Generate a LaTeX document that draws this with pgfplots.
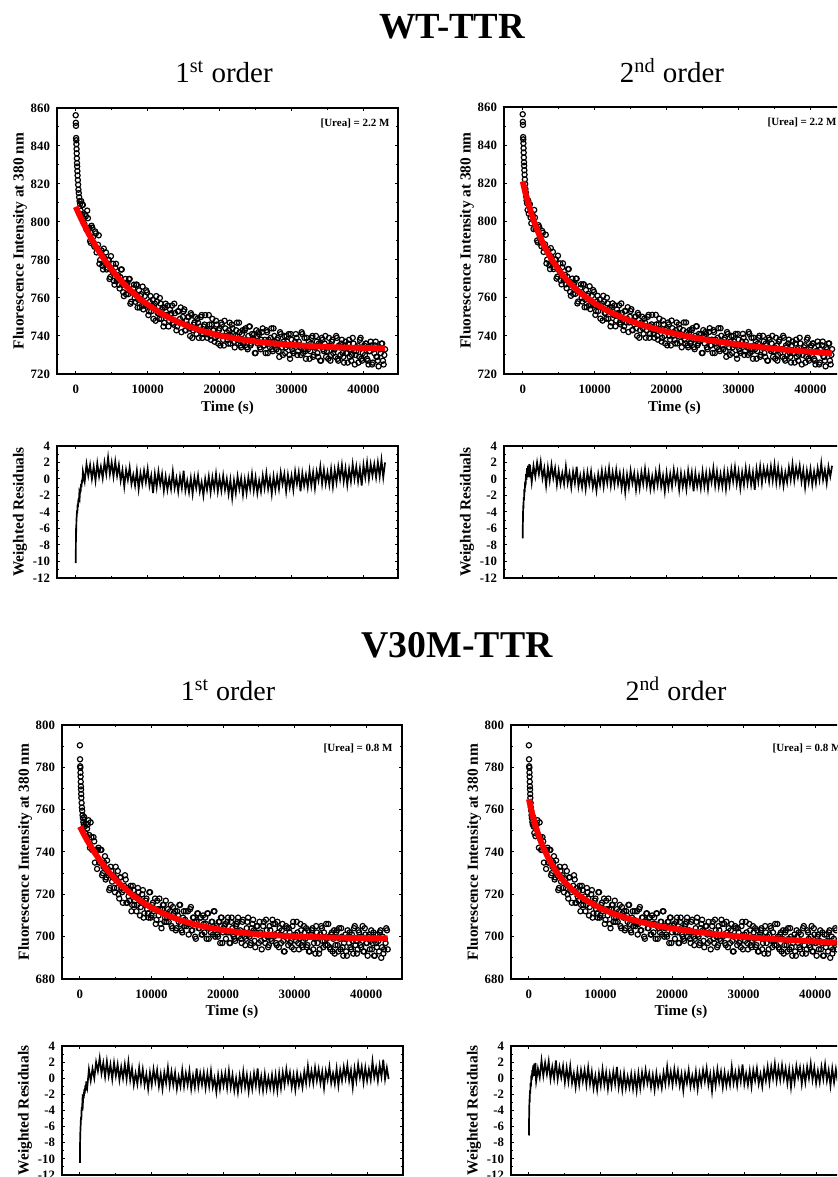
\documentclass[border=0pt]{standalone}
\usepackage{fontspec}
\setmainfont{Liberation Serif}
\usepackage{pgfplots}
\usepackage{pgfplotstable}
\pgfplotsset{compat=1.18}

% WT-TTR fluorescence trace (two interleaved reads of the dense point band)
\pgfplotstableread{
t y
0 856.2
20 852.2
40 850.6
60 844.2
80 843.0
100 841.0
120 838.4
140 836.1
160 833.5
180 831.0
200 829.2
230 826.8
260 824.5
300 822.0
340 819.6
380 817.0
430 815.2
480 813.0
540 811.0
600 809.5
680 806.0
760 811.0
850 804.0
920 809.0
1000 809
1200 799
1400 803
1600 806
1800 796
2000 790
2200 798
2400 792
2600 787
2800 794
3000 786
3200 793
3400 780
3600 785
3800 775
4000 781
4200 784
4400 776
4600 780
4800 771
5000 775
5200 778
5400 767
5600 778
5800 770
6000 767
6200 771
6400 775
6600 763
6800 768
7000 762
7200 768
7400 770
7600 757
7800 763
8000 765
8200 760
8400 767
8600 755
8800 764
9000 761
9200 756
9400 754
9600 761
9800 764
10000 756
10200 753
10400 761
10600 756
10800 749
11000 757
11200 761
11400 752
11600 749
11800 757
12000 754
12200 745
12400 755
12600 751
12800 756
13000 748
13200 751
13400 756
13600 746
13800 752
14000 743
14200 753
14400 747
14600 755
14800 747
15000 753
15200 743
15400 748
15600 750
15800 744
16000 752
16200 739
16400 746
16600 750
16800 741
17000 747
17200 743
17400 750
17600 739
17800 745
18000 751
18200 741
18400 743
18600 746
18800 738
19000 749
19200 743
19400 739
19600 746
19800 736
20000 744
20200 747
20400 740
20600 735
20800 744
21000 742
21200 736
21400 747
21600 740
21800 744
22000 737
22200 740
22400 747
22600 736
22800 742
23000 734
23200 743
23400 737
23600 744
23800 734
24000 740
24200 745
24400 736
24600 737
24800 741
25000 731
25200 740
25400 742
25600 734
25800 738
26000 744
26200 735
26400 731
26600 742
26800 738
27000 734
27200 744
27400 732
27600 740
27800 735
28000 738
28200 732
28400 742
28600 736
28800 730
29000 740
29200 734
29400 737
29600 741
29800 728
30000 738
30200 732
30400 735
30600 741
30800 730
31000 737
31200 734
31400 742
31600 731
31800 739
32000 728
32200 735
32400 737
32600 732
32800 739
33000 729
33200 734
33400 740
33600 731
33800 736
34000 727
34200 739
34400 733
34600 736
34800 729
35000 734
35200 739
35400 727
35600 737
35800 731
36000 733
36200 740
36400 728
36600 735
36800 730
37000 738
37200 729
37400 735
37600 731
37800 726
38000 738
38200 733
38400 730
38600 736
38800 725
39000 732
39200 735
39400 729
39600 739
39800 727
40000 734
40200 730
40400 736
40600 727
40800 732
41000 737
41200 725
41400 733
41600 735
41800 729
42000 727
42200 734
42400 731
42600 736
42800 725
43000 733
}\wtdata

\pgfplotstableread{
t y
1100 802
1300 804
1500 796
1700 802
1900 797
2100 789
2300 797
2500 789
2700 795
2900 784
3100 788
3300 778
3500 784
3700 777
3900 786
4100 778
4300 775
4500 780
4700 770
4900 782
5100 774
5300 769
5500 776
5700 769
5900 772
6100 765
6300 775
6500 767
6700 761
6900 770
7100 767
7300 762
7500 770
7700 758
7900 763
8100 767
8300 758
8500 767
8700 759
8900 755
9100 762
9300 766
9500 756
9700 757
9900 763
10100 751
10300 758
10500 753
10700 759
10900 755
11100 748
11300 758
11500 752
11700 760
11900 749
12100 755
12300 747
12500 757
12700 751
12900 745
13100 754
13300 752
13500 747
13700 757
13900 748
14100 745
14300 753
14500 749
14700 742
14900 750
15100 754
15300 743
15500 746
15700 750
15900 740
16100 751
16300 743
16500 747
16700 744
16900 749
17100 739
17300 745
17500 751
17700 741
17900 746
18100 743
18300 739
18500 751
18700 740
18900 746
19100 743
19300 737
19500 748
19700 740
19900 743
20100 735
20300 746
20500 738
20700 748
20900 740
21100 738
21300 743
21500 736
21700 746
21900 741
22100 734
22300 743
22500 738
22700 747
22900 735
23100 741
23300 736
23500 743
23700 738
23900 733
24100 745
24300 735
24500 741
24700 738
24900 731
25100 743
25300 736
25500 741
25700 733
25900 742
26100 735
26300 738
26500 743
26700 731
26900 736
27100 739
27300 733
27500 744
27700 737
27900 733
28100 739
28300 729
28500 741
28700 734
28900 737
29100 731
29300 740
29500 735
29700 730
29900 741
30100 733
30300 731
30500 737
30700 739
30900 732
31100 735
31300 730
31500 741
31700 733
31900 732
32100 739
32300 733
32500 728
32700 736
32900 740
33100 730
33300 734
33500 737
33700 729
33900 735
34100 727
34300 738
34500 732
34700 740
34900 732
35100 728
35300 735
35500 730
35700 738
35900 733
36100 729
36300 739
36500 727
36700 734
36900 736
37100 731
37300 726
37500 737
37700 731
37900 736
38100 729
38300 727
38500 739
38700 732
38900 730
39100 734
39300 726
39500 738
39700 728
39900 731
40100 735
40300 736
40500 728
40700 725
40900 732
41100 735
41300 726
41500 731
41700 737
41900 729
42100 724
42300 733
42500 736
42700 727
42900 730
}\wtdatab

% V30M-TTR fluorescence trace
\pgfplotstableread{
t y
0 790.4
20 783.8
40 780.5
60 779.8
80 777.5
100 775.6
120 773.2
140 771.0
160 769.5
180 767.4
200 765.6
240 763.2
280 761.0
320 759.5
370 757.4
420 756.0
480 754.2
540 753.0
600 756.5
680 752.0
760 749.0
850 753.5
920 747.5
1000 751
1200 755
1400 742
1600 747
1800 741
2000 745
2200 741
2400 732
2600 742
2800 735
3000 741
3200 730
3400 735
3600 727
3800 736
4000 729
4200 723
4400 731
4600 728
4800 723
5000 733
5200 723
5400 720
5600 728
5800 723
6000 716
6200 724
6400 727
6600 716
6800 719
7000 722
7200 712
7400 724
7600 715
7800 719
8000 715
8200 721
8400 710
8600 716
8800 722
9000 711
9200 717
9400 713
9600 709
9800 721
10000 710
10200 716
10400 713
10600 706
10800 717
11000 710
11200 713
11400 704
11600 715
11800 707
12000 717
12200 709
12400 707
12600 712
12800 705
13000 714
13200 709
13400 703
13600 712
13800 707
14000 715
14200 703
14400 709
14600 705
14800 712
15000 706
15200 701
15400 713
15600 703
15800 709
16000 707
16200 699
16400 711
16600 704
16800 709
17000 701
17200 710
17400 702
17600 706
17800 711
18000 699
18200 704
18400 707
18600 701
18800 712
19000 704
19200 701
19400 707
19600 697
19800 709
20000 702
20200 705
20400 699
20600 707
20800 702
21000 697
21200 709
21400 701
21600 699
21800 705
22000 707
22200 700
22400 703
22600 697
22800 708
23000 700
23200 699
23400 707
23600 701
23800 696
24000 704
24200 708
24400 698
24600 702
24800 705
25000 697
25200 702
25400 694
25600 705
25800 699
26000 708
26200 700
26400 696
26600 703
26800 698
27000 706
27200 701
27400 697
27600 707
27800 695
28000 701
28200 703
28400 698
28600 693
28800 705
29000 699
29200 704
29400 697
29600 695
29800 707
30000 700
30200 698
30400 702
30600 694
30800 706
31000 696
31200 698
31400 702
31600 704
31800 696
32000 693
32200 700
32400 703
32600 694
32800 699
33000 705
33200 697
33400 692
33600 701
33800 704
34000 695
34200 698
34400 706
34600 696
34800 700
35000 694
35200 702
35400 699
35600 692
35800 702
36000 696
36200 704
36400 694
36600 700
36800 691
37000 699
37200 693
37400 703
37600 697
37800 695
38000 701
38200 692
38400 705
38600 698
38800 694
39000 702
39200 696
39400 700
39600 693
39800 704
40000 697
40200 691
40400 701
40600 698
40800 694
41000 702
41200 691
41400 697
41600 701
41800 693
42000 703
42200 695
42400 692
42600 699
42800 704
43000 694
}\vmdata

\pgfplotstableread{
t y
1100 753
1300 748
1500 754
1700 741
1900 747
2100 735
2300 741
2500 741
2700 735
2900 741
3100 729
3300 733
3500 738
3700 728
3900 732
4100 722
4300 733
4500 726
4700 729
4900 721
5100 727
5300 731
5500 718
5700 728
5900 721
6100 722
6300 729
6500 716
6700 723
6900 717
7100 724
7300 715
7500 722
7700 717
7900 712
8100 723
8300 718
8500 714
8700 720
8900 709
9100 715
9300 718
9500 711
9700 721
9900 709
10100 715
10300 712
10500 718
10700 708
10900 713
11100 718
11300 706
11500 713
11700 715
11900 709
12100 707
12300 713
12500 710
12700 715
12900 704
13100 711
13300 712
13500 704
13700 710
13900 715
14100 706
14300 702
14500 712
14700 708
14900 705
15100 712
15300 706
15500 714
15700 703
15900 709
16100 700
16300 707
16500 711
16700 704
16900 709
17100 701
17300 706
17500 709
17700 699
17900 711
18100 704
18300 702
18500 707
18700 712
18900 700
19100 705
19300 700
19500 707
19700 709
19900 697
20100 704
20300 706
20500 702
20700 709
20900 697
21100 707
21300 704
21500 700
21700 698
21900 706
22100 709
22300 702
22500 699
22700 707
22900 702
23100 696
23300 704
23500 709
23700 700
23900 697
24100 706
24300 703
24500 695
24700 705
24900 701
25100 707
25300 698
25500 701
25700 707
25900 697
26100 703
26300 695
26500 705
26700 699
26900 708
27100 700
27300 706
27500 696
27700 702
27900 704
28100 697
28300 706
28500 693
28700 700
28900 704
29100 696
29300 702
29500 698
29700 705
29900 694
30100 701
30300 707
30500 697
30700 699
30900 703
31100 695
31300 705
31500 699
31700 695
31900 703
32100 693
32300 701
32500 704
32700 697
32900 692
33100 702
33300 700
33500 694
33700 705
33900 698
34100 702
34300 696
34500 699
34700 706
34900 695
35100 701
35300 693
35500 703
35700 696
35900 703
36100 693
36300 699
36500 704
36700 695
36900 697
37100 701
37300 691
37500 700
37700 702
37900 694
38100 698
38300 704
38500 696
38700 692
38900 703
39100 699
39300 695
39500 705
39700 693
39900 701
40100 697
40300 700
40500 694
40700 703
40900 697
41100 691
41300 701
41500 695
41700 698
41900 702
42100 690
42300 700
42500 694
42700 697
42900 703
}\vmdatab

% residuals, WT 1st order
\pgfplotstableread{
t r
0 -10.2
20 -8.5
40 -6.0
70 -6.5
100 -5.0
140 -4.5
180 -3.8
220 -4.2
270 -3.0
320 -3.4
380 -2.4
440 -2.8
500 -1.8
560 -2.1
620 -1.2
680 -1.6
740 -0.6
800 -1.0
860 -0.1
920 -0.5
1000 0.9
1250 -0.3
1500 1.8
1750 0.4
2000 1.7
2250 0.0
2500 1.5
2750 -0.2
3000 1.9
3250 0.3
3500 1.5
3750 0.1
4000 2.0
4250 0.6
4500 2.6
4750 0.6
5000 2.0
5250 0.3
5500 2.1
5750 0.4
6000 1.7
6250 -0.2
6500 1.1
6750 -0.9
7000 1.1
7250 -0.1
7500 1.4
7750 -0.6
8000 0.5
8250 -0.8
8500 1.0
8750 -1.2
9000 0.7
9250 -0.6
9500 1.0
9750 -0.4
10000 1.2
10250 -0.8
10500 0.4
10750 -1.7
11000 0.6
11250 -1.0
11500 0.9
11750 -0.7
12000 0.6
12250 -1.4
12500 0.3
12750 -1.3
13000 0.1
13250 -1.2
13500 0.9
13750 -1.1
14000 0.1
14250 -1.5
14500 0.3
14750 -1.1
15000 1.0
15250 -1.4
15500 -0.2
15750 -1.6
16000 0.1
16250 -1.8
16500 0.2
16750 -1.1
17000 0.4
17250 -1.5
17500 -0.4
17750 -2.0
18000 0.0
18250 -1.3
18500 0.3
18750 -1.6
19000 0.2
19250 -1.2
19500 0.6
19750 -1.5
20000 0.1
20250 -1.4
20500 0.4
20750 -1.3
21000 0.0
21250 -1.8
21500 -0.1
21750 -2.3
22000 -0.2
22250 -1.7
22500 0.3
22750 -1.2
23000 0.1
23250 -1.9
23500 -0.1
23750 -1.7
24000 0.2
24250 -1.2
24500 0.6
24750 -1.4
25000 0.2
25250 -1.7
25500 -0.2
25750 -1.5
26000 0.4
26250 -1.1
26500 0.7
26750 -1.2
27000 0.1
27250 -1.8
27500 0.3
27750 -1.3
28000 0.3
28250 -1.2
28500 0.8
28750 -0.6
29000 0.6
29250 -1.5
29500 0.5
29750 -1.0
30000 0.4
30250 -1.3
30500 0.9
30750 -0.6
31000 0.8
31250 -1.5
31500 0.7
31750 -0.8
32000 0.5
32250 -1.0
32500 1.0
32750 -0.8
33000 0.8
33250 -1.1
33500 0.9
33750 -0.2
34000 1.5
34250 -0.6
34500 1.1
34750 -0.6
35000 0.8
35250 -0.7
35500 1.2
35750 -0.9
36000 1.1
36250 -0.4
36500 1.5
36750 0.0
37000 1.7
37250 -0.3
37500 1.3
37750 -0.7
38000 1.2
38250 -0.3
38500 1.8
38750 0.0
39000 1.5
39250 -0.3
39500 1.3
39750 -0.8
40000 1.7
40250 0.2
40500 2.0
40750 0.0
41000 1.8
41250 0.4
41500 1.8
41750 0.2
42000 2.0
42250 0.3
42500 2.3
42750 0.2
43000 2.0
}\resA

% residuals, WT 2nd order
\pgfplotstableread{
t r
0 -7.2
20 -5.5
40 -4.5
70 -3.2
100 -3.6
140 -2.2
180 -2.6
230 -1.2
280 -1.6
340 -0.3
400 -0.8
460 0.6
520 -0.1
590 1.3
660 0.2
740 1.6
820 0.4
900 1.8
960 0.2
1000 1.7
1250 -0.4
1500 1.6
1750 0.3
2000 2.0
2250 0.6
2500 2.1
2750 0.1
3000 1.3
3250 -0.8
3500 1.4
3750 -0.2
4000 1.7
4250 0.1
4500 1.3
4750 -0.7
5000 1.0
5250 -0.6
5500 0.7
5750 -0.6
6000 1.5
6250 -0.5
6500 0.7
6750 -1.0
7000 0.9
7250 -0.5
7500 1.5
7750 -0.9
8000 0.4
8250 -1.0
8500 0.7
8750 -1.2
9000 0.8
9250 -0.6
9500 0.9
9750 -1.0
10000 0.2
10250 -1.4
10500 0.6
10750 -0.7
11000 1.0
11250 -0.9
11500 0.9
11750 -0.5
12000 1.3
12250 -0.8
12500 0.8
12750 -0.7
13000 1.1
13250 -0.6
13500 0.7
13750 -1.1
14000 0.6
14250 -1.6
14500 0.5
14750 -1.0
15000 1.0
15250 -0.5
15500 0.7
15750 -1.3
16000 0.5
16250 -1.1
16500 0.8
16750 -0.6
17000 1.2
17250 -0.8
17500 0.7
17750 -1.2
18000 0.3
18250 -1.1
18500 0.8
18750 -0.7
19000 1.1
19250 -0.9
19500 0.4
19750 -1.5
20000 0.7
20250 -1.0
20500 0.6
20750 -0.9
21000 1.1
21250 -0.4
21500 0.8
21750 -1.3
22000 0.7
22250 -0.9
22500 0.5
22750 -1.2
23000 1.0
23250 -0.6
23500 0.8
23750 -1.5
24000 0.7
24250 -0.9
24500 0.4
24750 -1.1
25000 0.9
25250 -0.9
25500 0.7
25750 -1.2
26000 0.8
26250 -0.4
26500 1.3
26750 -0.8
27000 0.9
27250 -0.9
27500 0.6
27750 -0.9
28000 0.9
28250 -1.2
28500 0.8
28750 -0.7
29000 1.2
29250 -0.3
29500 1.4
29750 -0.6
30000 0.9
30250 -1.1
30500 0.8
30750 -0.7
31000 1.3
31250 -0.5
31500 1.1
31750 -0.7
32000 0.8
32250 -1.3
32500 1.2
32750 -0.3
33000 1.5
33250 -0.5
33500 1.3
33750 0.0
34000 1.3
34250 -0.3
34500 1.5
34750 -0.2
35000 1.7
35250 -0.4
35500 1.4
35750 -0.5
36000 1.0
36250 -0.8
36500 0.8
36750 -0.4
37000 1.4
37250 -0.1
37500 1.8
37750 -0.2
38000 1.4
38250 0.2
38500 1.6
38750 -0.3
39000 1.1
39250 -1.0
39500 1.0
39750 -0.4
40000 1.2
40250 -0.7
40500 0.9
40750 -0.5
41000 1.3
41250 -0.1
41500 1.9
41750 -0.1
42000 1.1
42250 -0.5
42500 1.5
42750 0.3
43000 1.6
}\resB

% residuals, V30M 1st order
\pgfplotstableread{
t r
0 -10.5
20 -8.0
40 -7.0
70 -6.4
100 -5.8
140 -4.8
190 -5.2
240 -3.6
290 -4.0
350 -2.8
410 -3.1
470 -2.0
530 -2.5
600 -1.4
670 -1.9
740 -0.9
810 -1.5
880 -0.4
940 -1.1
1000 -1.3
1250 1.1
1500 -0.3
1750 1.2
2000 0.0
2250 2.0
2500 0.9
2750 2.5
3000 0.6
3250 1.9
3500 0.2
3750 2.1
4000 0.3
4250 1.7
4500 -0.1
4750 1.9
5000 0.3
5250 1.7
5500 -0.2
5750 1.4
6000 0.0
6250 1.7
6500 -0.1
6750 2.0
7000 -0.2
7250 1.2
7500 -0.8
7750 0.6
8000 -0.7
8250 1.3
8500 -0.5
8750 1.1
9000 -0.8
9250 0.5
9500 -1.3
9750 0.7
10000 -0.8
10250 1.1
10500 -0.4
10750 1.0
11000 -1.0
11250 0.5
11500 -1.3
11750 0.7
12000 -0.6
12250 1.3
12500 -0.9
12750 0.8
13000 -0.8
13250 0.7
13500 -1.3
13750 0.2
14000 -1.0
14250 1.0
14500 -1.0
14750 0.6
15000 -0.8
15250 0.9
15500 -1.3
15750 0.3
16000 -1.1
16250 1.2
16500 -1.0
16750 0.6
17000 -0.8
17250 0.7
17500 -1.2
17750 0.6
18000 -1.0
18250 0.9
18500 -1.1
18750 0.0
19000 -1.7
19250 0.4
19500 -1.3
19750 0.5
20000 -0.9
20250 0.6
20500 -1.2
20750 0.9
21000 -1.1
21250 0.4
21500 -1.5
21750 0.0
22000 -1.7
22250 0.3
22500 -1.2
22750 0.8
23000 -1.1
23250 0.4
23500 -1.6
23750 0.2
24000 -1.3
24250 0.6
24500 -0.9
24750 1.2
25000 -1.3
25250 0.2
25500 -1.5
25750 0.5
26000 -1.3
26250 0.1
26500 -1.2
26750 0.4
27000 -1.4
27250 0.4
27500 -1.5
27750 0.6
28000 -1.2
28250 0.7
28500 -0.8
28750 1.1
29000 -0.5
29250 0.7
29500 -1.1
29750 0.4
30000 -1.4
30250 0.6
30500 -0.9
30750 0.3
31000 -1.1
31250 0.8
31500 -0.6
31750 1.5
32000 -0.5
32250 0.9
32500 -0.6
32750 1.3
33000 -0.3
33250 1.1
33500 -0.6
33750 0.8
34000 -1.2
34250 0.9
34500 -0.2
34750 1.4
35000 -0.6
35250 0.6
35500 -0.7
35750 1.2
36000 -0.9
36250 1.0
36500 -0.3
36750 1.4
37000 0.0
37250 1.6
37500 -0.3
37750 1.0
38000 -1.1
38250 1.2
38500 -0.3
38750 1.7
39000 0.1
39250 1.4
39500 -0.5
39750 1.3
40000 -0.3
40250 1.1
40500 -0.2
40750 2.1
41000 0.1
41250 1.3
41500 -0.3
41750 1.6
42000 0.2
42250 2.3
42500 -0.1
42750 1.3
43000 -0.1
}\resC

% residuals, V30M 2nd order
\pgfplotstableread{
t r
0 -7.1
20 -5.0
40 -4.0
70 -2.6
100 -3.0
140 -1.5
180 -1.9
230 -0.6
280 -1.0
340 0.4
400 -0.2
460 1.0
520 0.2
590 1.6
660 0.3
740 1.8
820 0.3
900 1.9
960 0.1
1000 -0.4
1250 1.2
1500 0.1
1750 2.2
2000 0.3
2250 1.9
2500 0.5
2750 2.1
3000 -0.1
3250 1.4
3500 0.0
3750 2.2
4000 -0.1
4250 1.4
4500 0.1
4750 1.5
5000 -0.5
5250 1.3
5500 -0.4
5750 1.5
6000 -0.6
6250 0.6
6500 -1.1
6750 0.9
7000 -0.8
7250 1.0
7500 -0.4
7750 1.0
8000 -0.8
8250 1.3
8500 -0.7
8750 0.8
9000 -1.2
9250 0.3
9500 -1.4
9750 0.6
10000 -0.9
10250 1.1
10500 -0.8
10750 0.7
11000 -1.3
11250 0.5
11500 -1.0
11750 0.8
12000 -0.7
12250 1.4
12500 -1.1
12750 0.4
13000 -1.4
13250 0.6
13500 -1.2
13750 0.2
14000 -1.1
14250 0.5
14500 -1.3
14750 0.4
15000 -1.5
15250 0.6
15500 -1.2
15750 0.7
16000 -0.8
16250 1.0
16500 -0.6
16750 0.6
17000 -1.1
17250 0.4
17500 -1.4
17750 0.6
18000 -1.0
18250 0.2
18500 -1.2
18750 0.7
19000 -0.7
19250 1.4
19500 -0.6
19750 0.8
20000 -0.8
20250 1.1
20500 -0.5
20750 0.9
21000 -0.9
21250 0.5
21500 -1.5
21750 0.6
22000 -0.6
22250 1.0
22500 -1.0
22750 0.3
23000 -1.0
23250 0.8
23500 -1.3
23750 0.6
24000 -0.7
24250 1.0
24500 -0.4
24750 1.2
25000 -0.8
25250 0.5
25500 -1.6
25750 0.7
26000 -0.9
26250 1.1
26500 -0.5
26750 0.8
27000 -1.1
27250 0.7
27500 -0.9
27750 0.5
28000 -0.8
28250 1.4
28500 -0.6
28750 0.7
29000 -0.9
29250 1.0
29500 -0.4
29750 1.7
30000 -0.7
30250 0.6
30500 -0.8
30750 0.9
31000 -1.0
31250 1.0
31500 -0.3
31750 1.2
32000 -0.7
32250 0.5
32500 -1.0
32750 1.0
33000 -0.3
33250 1.4
33500 -0.5
33750 1.4
34000 0.0
34250 1.8
34500 -0.3
34750 1.3
35000 -0.2
35250 1.6
35500 -0.1
35750 1.2
36000 -0.6
36250 1.1
36500 -1.1
36750 1.0
37000 -0.5
37250 1.5
37500 0.1
37750 1.3
38000 -0.7
38250 1.1
38500 -0.5
38750 1.4
39000 0.0
39250 1.8
39500 -0.2
39750 1.3
40000 -0.6
40250 0.9
40500 -0.5
40750 1.4
41000 -0.1
41250 1.7
41500 -0.3
41750 1.0
42000 -0.9
42250 1.2
42500 -0.5
42750 1.1
43000 -0.4
}\resD

\pgfplotsset{
  kin/.style={
    scale only axis,
    clip marker paths=true,
    xmin=-2600, xmax=44800,
    xtick={0,10000,20000,30000,40000},
    minor x tick num=1,
    minor y tick num=1,
    scaled x ticks=false,
    scaled y ticks=false,
    axis line style={line width=0.7pt},
    every tick/.style={black, line width=0.5pt},
    major tick length=1.7pt,
    minor tick length=1.1pt,
    tick label style={font=\fontsize{6.4}{7}\selectfont\bfseries},
    xticklabel style={yshift=-2pt},
    /pgf/number format/assume math mode=true,
    /pgf/number format/set thousands separator={},
    ylabel style={at={(axis description cs:-0.1085,0.5)}, anchor=center,
      font=\fontsize{7.7}{8}\selectfont\bfseries},
    xlabel style={at={(axis description cs:0.5,-0.128)}, anchor=center,
      font=\fontsize{7.5}{8}\selectfont\bfseries},
  },
  fluo/.style={kin, ylabel={Fluorescence Intensity at 380 nm}, xlabel={Time (s)}},
  resid/.style={kin, ymin=-12, ymax=4, ytick={-12,-10,...,4}, xticklabels={},
    ylabel={Weighted Residuals}},
  pts/.style={only marks, mark=o, mark size=1.3pt, mark options={black, line width=0.6pt}},
  fit/.style={red, line width=2.9pt},
  res/.style={black, line width=0.85pt},
}

\begin{document}
\begin{tikzpicture}[x=0.5pt, y=0.5pt]
\useasboundingbox (0,0) rectangle (837,1177);
\clip (0,0) rectangle (837,1177);
% lower-left corners of the eight axis boxes (picture pixels, y upwards)
\coordinate (pA) at (57,803);
\coordinate (rA) at (57,599);
\coordinate (pB) at (504,803);
\coordinate (rB) at (504,599);
\coordinate (pC) at (62,198);
\coordinate (rC) at (62,2);
\coordinate (pD) at (511,198);
\coordinate (rD) at (511,2);

\node[anchor=base, font=\fontsize{18.4}{20}\selectfont\bfseries] at (452,1138) {WT-TTR};
\node[anchor=base, font=\fontsize{14.5}{16}\selectfont] at (224,1094) {1\textsuperscript{st} order};
\node[anchor=base, font=\fontsize{14.5}{16}\selectfont] at (672,1094) {2\textsuperscript{nd} order};
\node[anchor=base, font=\fontsize{18.9}{20}\selectfont\bfseries] at (457,519) {V30M-TTR};
\node[anchor=base, font=\fontsize{14}{16}\selectfont] at (228,476) {1\textsuperscript{st} order};
\node[anchor=base, font=\fontsize{14}{16}\selectfont] at (676,476) {2\textsuperscript{nd} order};

% WT, first order
\begin{axis}[fluo, at={(pA)}, anchor=south west, width=170.5pt, height=133pt,
  ymin=720, ymax=860, ytick={720,740,...,860}]
\addplot[pts] table[x=t, y=y] {\wtdata};
\addplot[pts] table[x=t, y=y] {\wtdatab};
\addplot[fit] coordinates {
(0,808.0) (500,803.8) (1000,799.8) (2000,792.4) (3000,785.9) (4000,780.1)
(5000,774.9) (6000,770.3) (7000,766.2) (8000,762.6) (9000,759.3) (10000,756.5)
(12000,751.6) (14000,747.7) (16000,744.7) (18000,742.2) (20000,740.3) (22000,738.8)
(24000,737.6) (26000,736.6) (28000,735.9) (30000,735.3) (33000,734.6) (36000,734.1)
(40000,733.7) (43000,733.5)};
\node[anchor=north east, inner sep=0pt, font=\fontsize{5.5}{6}\selectfont\bfseries]
  at (rel axis cs:1,1) [xshift=-4pt, yshift=-5pt] {[Urea] = 2.2 M};
\end{axis}
\begin{axis}[resid, at={(rA)}, anchor=south west, width=170.5pt, height=66pt]
\addplot[res] table[x=t, y=r] {\resA};
\end{axis}

% WT, second order
\begin{axis}[fluo, at={(pB)}, anchor=south west, width=170.5pt, height=133.5pt,
  ymin=720, ymax=860, ytick={720,740,...,860}]
\addplot[pts] table[x=t, y=y] {\wtdata};
\addplot[pts] table[x=t, y=y] {\wtdatab};
\addplot[fit] coordinates {
(0,821.0) (250,816.9) (500,813.2) (1000,806.5) (1500,800.7) (2000,795.6)
(3000,787.0) (4000,780.2) (5000,774.6) (6000,769.9) (7000,766.0) (8000,762.5)
(10000,757.0) (12000,752.7) (14000,749.3) (16000,746.4) (18000,744.1) (20000,742.1)
(23000,739.6) (26000,737.6) (30000,735.4) (34000,733.7) (38000,732.2) (43000,730.8)};
\node[anchor=north east, inner sep=0pt, font=\fontsize{5.5}{6}\selectfont\bfseries]
  at (rel axis cs:1,1) [xshift=-4pt, yshift=-5pt] {[Urea] = 2.2 M};
\end{axis}
\begin{axis}[resid, at={(rB)}, anchor=south west, width=170.5pt, height=66pt]
\addplot[res] table[x=t, y=r] {\resB};
\end{axis}

% V30M, first order
\begin{axis}[fluo, at={(pC)}, anchor=south west, width=170pt, height=127pt,
  xmin=-2500, xmax=45000, ymin=680, ymax=800, ytick={680,700,...,800}]
\addplot[pts] table[x=t, y=y] {\vmdata};
\addplot[pts] table[x=t, y=y] {\vmdatab};
\addplot[fit] coordinates {
(0,752.0) (500,748.7) (1000,745.6) (2000,740.0) (3000,735.1) (4000,730.7)
(5000,726.9) (6000,723.6) (7000,720.6) (8000,718.0) (9000,715.7) (10000,713.7)
(12000,710.4) (14000,707.8) (16000,705.8) (18000,704.3) (20000,703.1) (22000,702.2)
(24000,701.4) (26000,700.9) (28000,700.5) (30000,700.1) (33000,699.8) (36000,699.5)
(40000,699.3) (43000,699.2)};
\node[anchor=north east, inner sep=0pt, font=\fontsize{5.5}{6}\selectfont\bfseries]
  at (rel axis cs:1,1) [xshift=-4.5pt, yshift=-9pt] {[Urea] = 0.8 M};
\end{axis}
\begin{axis}[resid, at={(rC)}, anchor=south west, width=170.5pt, height=64.5pt,
  xmin=-2500, xmax=45000]
\addplot[res] table[x=t, y=r] {\resC};
\end{axis}

% V30M, second order
\begin{axis}[fluo, at={(pD)}, anchor=south west, width=170pt, height=127pt,
  xmin=-2500, xmax=45000, ymin=680, ymax=800, ytick={680,700,...,800}]
\addplot[pts] table[x=t, y=y] {\vmdata};
\addplot[pts] table[x=t, y=y] {\vmdatab};
\addplot[fit] coordinates {
(0,765.0) (250,761.1) (500,757.6) (1000,751.5) (1500,746.4) (2000,742.1)
(3000,735.2) (4000,729.9) (5000,725.7) (6000,722.3) (7000,719.5) (8000,717.2)
(10000,713.4) (12000,710.6) (14000,708.4) (16000,706.6) (18000,705.1) (20000,703.9)
(23000,702.4) (26000,701.2) (30000,699.9) (34000,698.9) (38000,698.1) (43000,697.2)};
\node[anchor=north east, inner sep=0pt, font=\fontsize{5.5}{6}\selectfont\bfseries]
  at (rel axis cs:1,1) [xshift=-4.5pt, yshift=-9pt] {[Urea] = 0.8 M};
\end{axis}
\begin{axis}[resid, at={(rD)}, anchor=south west, width=170.5pt, height=64.5pt,
  xmin=-2500, xmax=45000]
\addplot[res] table[x=t, y=r] {\resD};
\end{axis}
\end{tikzpicture}
\end{document}
